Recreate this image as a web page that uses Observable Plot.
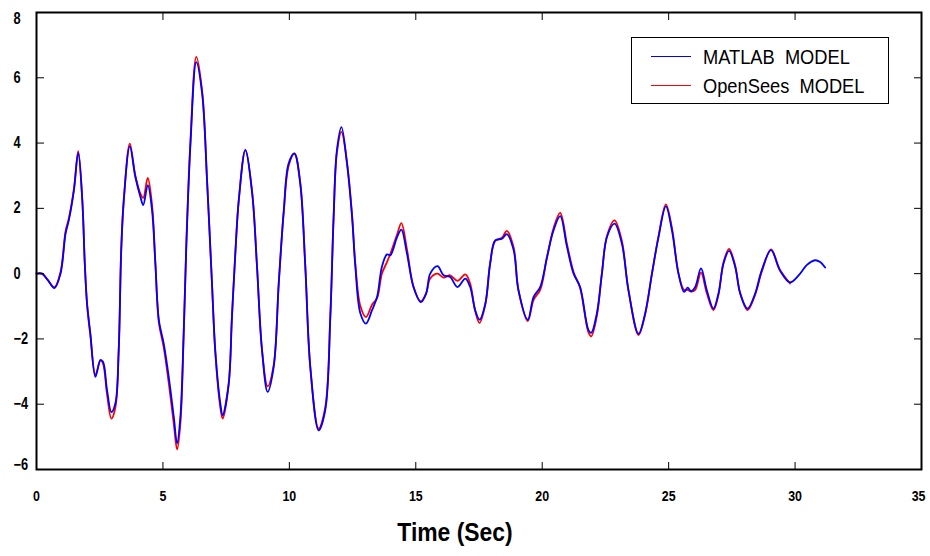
<!DOCTYPE html>
<html>
<head>
<meta charset="utf-8">
<script src="https://cdn.jsdelivr.net/npm/d3@7"></script>
<script src="https://cdn.jsdelivr.net/npm/@observablehq/plot@0.6"></script>
<style>
  html, body { margin: 0; padding: 0; background: #fff; }
  #wrap { position: relative; width: 930px; height: 556px; }
  #legend {
    position: absolute; left: 631px; top: 37px; width: 256px; height: 65px;
    border: 1.5px solid #000; background: #fff; box-sizing: content-box;
    font-family: "Liberation Sans", Arial, sans-serif;
    font-size: 21px; color: #000;
  }
  .row { position: absolute; left: 0; height: 28px; width: 256px; }
  .sw { position: absolute; left: 19px; width: 40px; top: 13px; height: 0; border-top: 1.5px solid; }
  .lab { position: absolute; left: 71px; top: 0; line-height: 28px; white-space: pre; transform: scaleX(0.87); transform-origin: 0 50%; }
</style>
</head>
<body>
<div id="wrap"></div>
<script>
// Time (s) and response values
const time = [0, 0.22, 0.45, 0.71, 0.95, 1.15, 1.28, 1.48, 1.65, 1.81, 1.91, 2.0, 2.13, 2.33, 2.53, 2.63, 2.79, 2.96, 3.12, 3.25, 3.35, 3.45, 3.69, 3.91, 4.11, 4.22, 4.40, 4.57, 4.70, 4.84, 5.03, 5.23, 5.43, 5.56, 5.69, 5.82, 5.92, 6.09, 6.32, 6.55, 6.75, 6.94, 7.07, 7.27, 7.36, 7.60, 7.73, 7.87, 8.0, 8.26, 8.53, 8.72, 8.92, 9.14, 9.38, 9.58, 9.78, 9.97, 10.2, 10.43, 10.63, 10.83, 11.16, 11.42, 11.62, 11.75, 11.88, 12.06, 12.28, 12.48, 12.61, 12.81, 13.03, 13.27, 13.47, 13.66, 13.86, 13.99, 14.26, 14.43, 14.65, 14.91, 15.2, 15.41, 15.57, 15.86, 16.10, 16.36, 16.65, 16.96, 17.15, 17.35, 17.52, 17.75, 17.94, 18.14, 18.41, 18.60, 18.87, 19.06, 19.43, 19.66, 19.92, 20.19, 20.45, 20.71, 20.98, 21.24, 21.50, 21.83, 21.94, 22.16, 22.36, 22.56, 22.86, 23.15, 23.41, 23.81, 24.07, 24.34, 24.60, 24.89, 25.13, 25.39, 25.61, 25.75, 25.89, 26.05, 26.28, 26.51, 26.77, 26.97, 27.17, 27.39, 27.63, 27.83, 28.12, 28.42, 28.68, 29.05, 29.4, 29.8, 30.2, 30.46, 30.79, 30.99, 31.19];

const matlab = [0, 0, -0.2, -0.44, 0.0, 1.23, 1.64, 2.55, 3.70, 2.25, 0.31, -0.92, -1.83, -3.16, -2.65, -2.70, -3.57, -4.24, -3.97, -2.35, 0.72, 2.25, 3.90, 2.96, 2.35, 2.10, 2.71, 1.94, 0.31, -1.43, -2.14, -3.16, -4.39, -5.2, -4.39, -1.83, 0.72, 3.98, 6.48, 5.52, 2.76, -0.30, -2.35, -3.98, -4.34, -3.37, -1.33, 0.72, 2.25, 3.78, 2.45, 0.21, -2.35, -3.62, -2.86, -0.30, 1.94, 3.37, 3.68, 2.76, 0.21, -2.86, -4.80, -4.18, -1.33, 1.74, 3.78, 4.49, 3.37, 1.74, 0.21, -1.22, -1.53, -1.12, -0.71, 0.21, 0.59, 0.56, 1.12, 1.35, 0.62, -0.41, -0.87, -0.61, 0.0, 0.23, -0.05, -0.10, -0.41, -0.15, -0.41, -1.12, -1.41, -0.92, 0.31, 1.02, 1.07, 1.21, 0.72, -0.51, -1.41, -0.71, -0.41, 0.51, 1.33, 1.76, 0.82, 0.0, -0.41, -1.73, -1.81, -1.22, 0, 1.12, 1.53, 0.92, -0.51, -1.84, -1.22, 0, 1.12, 2.06, 1.33, 0, -0.56, -0.43, -0.54, -0.41, 0.16, -0.51, -1.07, -0.61, 0.31, 0.70, 0.21, -0.61, -1.07, -0.61, 0.10, 0.72, 0.10, -0.27, 0.0, 0.26, 0.41, 0.36, 0.19];

const opensees = [0, 0, -0.2, -0.42, 0.05, 1.3, 1.7, 2.6, 3.75, 2.3, 0.3, -0.95, -1.9, -3.1, -2.65, -2.75, -3.7, -4.44, -4.1, -2.4, 0.7, 2.2, 3.98, 3.0, 2.45, 2.32, 2.93, 2.1, 0.35, -1.5, -2.25, -3.35, -4.6, -5.39, -4.6, -1.9, 0.8, 4.1, 6.64, 5.6, 2.8, -0.3, -2.4, -4.1, -4.44, -3.4, -1.3, 0.72, 2.25, 3.8, 2.5, 0.25, -2.35, -3.45, -2.8, -0.3, 1.9, 3.3, 3.68, 2.8, 0.25, -2.9, -4.75, -4.1, -1.3, 1.7, 3.7, 4.34, 3.4, 1.8, 0.3, -1.0, -1.33, -0.95, -0.75, 0.0, 0.35, 0.6, 1.2, 1.55, 0.75, -0.4, -0.85, -0.6, -0.15, 0.0, -0.12, -0.05, -0.22, -0.02, -0.3, -1.15, -1.51, -0.95, 0.3, 1.0, 1.1, 1.31, 0.8, -0.5, -1.45, -0.8, -0.5, 0.5, 1.4, 1.86, 0.9, 0.05, -0.45, -1.8, -1.92, -1.3, 0, 1.15, 1.63, 1.0, -0.5, -1.88, -1.25, 0, 1.15, 2.12, 1.4, 0, -0.5, -0.5, -0.55, -0.5, 0.03, -0.6, -1.12, -0.65, 0.35, 0.76, 0.25, -0.6, -1.12, -0.65, 0.05, 0.74, 0.12, -0.3];

const xTicks = [0, 5, 10, 15, 20, 25, 30, 35];
const yTicks = [-6, -4, -2, 0, 2, 4, 6, 8];
const seriesNames = ["MATLAB  MODEL", "OpenSees  MODEL"];
const seriesColors = ["#0000ff", "#ff0000"];
const xLabel = "Time (Sec)";

const blueData = matlab.map((v, i) => ({t: time[i], v}));
const redData = opensees.map((v, i) => ({t: time[i], v}));

const font = "'Liberation Sans', Arial, sans-serif";
const yMid = yTicks.slice(1, -1);
const yTop = yTicks.slice(-1);
const yBottom = yTicks.slice(0, 1);
const xMain = xTicks.slice(0, -1);
const xLast = xTicks.slice(-1);
const yLabelOpts = {anchor: "left", tickSize: 0, tickPadding: 23, textAnchor: "start", label: null, fill: "#000"};
const xLabelOpts = {anchor: "bottom", tickSize: 0, tickPadding: 20, fontSize: 15.5, label: null, fill: "#000"};

const chart = Plot.plot({
  width: 930,
  height: 556,
  marginLeft: 36,
  marginRight: 9,
  marginTop: 12,
  marginBottom: 87,
  style: {fontFamily: font, fontSize: "16px", fontWeight: "bold", color: "#000", background: "#fff"},
  x: {domain: [0, 35]},
  y: {domain: [-6, 8]},
  marks: [
    Plot.line(redData, {x: "t", y: "v", stroke: seriesColors[1], strokeWidth: 1.8, curve: "catmull-rom"}),
    Plot.line(blueData, {x: "t", y: "v", stroke: seriesColors[0], strokeWidth: 1.8, curve: "catmull-rom"}),
    Plot.frame({stroke: "#000", strokeWidth: 2}),
    Plot.axisX({ticks: xTicks, anchor: "bottom", tickSize: -7, tickFormat: () => "", label: null}),
    Plot.axisX({ticks: xTicks, anchor: "top", tickSize: -7, tickFormat: () => "", label: null}),
    Plot.axisY({ticks: yTicks, anchor: "left", tickSize: -8, tickFormat: () => "", label: null}),
    Plot.axisY({ticks: yTicks, anchor: "right", tickSize: -8, tickFormat: () => "", label: null}),
    Plot.axisX({ticks: xMain, ...xLabelOpts}),
    Plot.axisX({ticks: xLast, ...xLabelOpts, textAnchor: "end", dx: 4}),
    Plot.axisY({ticks: yMid, ...yLabelOpts}),
    Plot.axisY({ticks: yTop, ...yLabelOpts, dy: 6}),
    Plot.axisY({ticks: yBottom, ...yLabelOpts, dy: -5}),
    Plot.text([xLabel], {frameAnchor: "bottom", dx: -24, dy: 71, fontSize: 26, fontWeight: "bold", fill: "#000"})
  ]
});

const wrap = document.getElementById("wrap");
wrap.appendChild(chart);

// Narrow the bold labels, like the condensed typeface in the reference
chart.querySelectorAll("text").forEach((el) => {
  if (!el.textContent) return;
  const len = el.getComputedTextLength();
  const k = el.textContent === xLabel ? 0.88 : 0.8;
  el.setAttribute("textLength", len * k);
  el.setAttribute("lengthAdjust", "spacingAndGlyphs");
});

const legend = document.createElement("div");
legend.id = "legend";
seriesNames.forEach((name, i) => {
  const row = document.createElement("div");
  row.className = "row";
  row.style.top = (5 + i * 28.7) + "px";
  const sw = document.createElement("div");
  sw.className = "sw";
  sw.style.borderTopColor = seriesColors[i];
  const lab = document.createElement("div");
  lab.className = "lab";
  lab.textContent = name;
  row.appendChild(sw);
  row.appendChild(lab);
  legend.appendChild(row);
});
wrap.appendChild(legend);
</script>
</body>
</html>
